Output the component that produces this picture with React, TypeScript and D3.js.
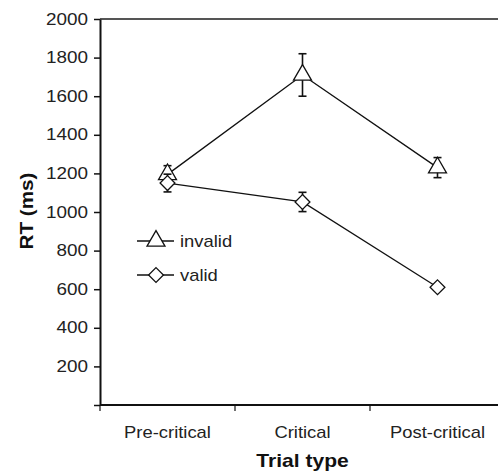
import React, { useEffect, useRef } from 'react';
import * as d3 from 'd3';

const categories = ['Pre-critical', 'Critical', 'Post-critical'];
const invalidMeans = [1195, 1710, 1230];
const invalidErr = [45, 110, 52];
const validMeans = [1150, 1052, 610];
const validErr = [46, 50, 0];
const yTicks = [200, 400, 600, 800, 1000, 1200, 1400, 1600, 1800, 2000];

const App = () => {
  const svgRef = useRef<SVGSVGElement>(null);

  useEffect(() => {
    const svg = d3.select(svgRef.current);
    svg.selectAll('*').remove();
    const font = 'Liberation Sans, Arial, Helvetica, sans-serif';
    const sx = 1.15; // the original lettering runs a bit wide

    const left = 100;
    const top = 19;
    const bottom = 405;

    const x = d3.scaleBand().domain(categories).range([left, 505]).padding(0);
    const y = d3.scaleLinear().domain([0, 2000]).range([bottom, top]);
    const cx = (c: string) => (x(c) as number) + x.bandwidth() / 2;

    // wide text helper: scale horizontally around the anchor point
    const wideText = (px: number, py: number, str: string, size: number, anchor: string, weight = 'normal', k = sx) =>
      svg.append('text')
        .attr('transform', `translate(${px},${py}) scale(${k},1)`)
        .attr('text-anchor', anchor)
        .attr('font-family', font).attr('font-size', size).attr('font-weight', weight)
        .attr('fill', weight === 'bold' ? '#111' : '#222')
        .text(str);

    // top border
    svg.append('line')
      .attr('x1', left).attr('x2', 498)
      .attr('y1', top).attr('y2', top)
      .attr('stroke', '#555').attr('stroke-width', 2);

    // y axis
    const yAxis = svg.append('g')
      .attr('transform', `translate(${left},0)`)
      .call(d3.axisLeft(y).tickValues([0, ...yTicks]).tickSize(6).tickSizeOuter(0)
        .tickFormat((d) => (d === 0 ? '' : String(d))));
    yAxis.select('.domain').attr('stroke', '#111').attr('stroke-width', 2);
    yAxis.selectAll('.tick line').attr('stroke', '#111').attr('stroke-width', 1.5);
    yAxis.selectAll('.tick text')
      .attr('x', -12 / 1.18)
      .attr('transform', 'scale(1.18,1)')
      .attr('font-family', font).attr('font-size', 16).attr('fill', '#222');

    // x axis: ticks at band boundaries
    svg.append('line')
      .attr('x1', left).attr('x2', 498)
      .attr('y1', bottom).attr('y2', bottom)
      .attr('stroke', '#111').attr('stroke-width', 2);
    svg.selectAll('.xtick')
      .data(categories)
      .join('line')
      .attr('x1', (d) => x(d) as number).attr('x2', (d) => x(d) as number)
      .attr('y1', bottom).attr('y2', bottom + 6)
      .attr('stroke', '#111').attr('stroke-width', 1.2);
    categories.forEach((c) => wideText(cx(c), bottom + 33, c, 16, 'middle'));

    // titles
    wideText(cx('Critical'), 467, 'Trial type', 18, 'middle', 'bold', 1.17);
    svg.append('text')
      .attr('transform', 'translate(33,211) rotate(-90) scale(1.15,1)')
      .attr('text-anchor', 'middle')
      .attr('font-family', font).attr('font-size', 18).attr('font-weight', 'bold')
      .attr('fill', '#111')
      .text('RT (ms)');

    const line = d3.line<number>()
      .x((_, i) => cx(categories[i]))
      .y((d) => y(d));

    const series = [
      { name: 'invalid', means: invalidMeans, errs: invalidErr, shape: d3.symbolTriangle },
      { name: 'valid', means: validMeans, errs: validErr, shape: d3.symbolDiamond2 },
    ];
    const marker = d3.symbol().size(140);

    series.forEach((s) => {
      svg.append('path')
        .attr('d', line(s.means))
        .attr('fill', 'none').attr('stroke', '#111').attr('stroke-width', 1.3);

      s.means.forEach((m, i) => {
        if (!s.errs[i]) return;
        const px = cx(categories[i]);
        const g = svg.append('g').attr('stroke', '#111').attr('stroke-width', 1.6);
        g.append('line').attr('x1', px).attr('x2', px)
          .attr('y1', y(m + s.errs[i])).attr('y2', y(m - s.errs[i]));
        [m + s.errs[i], m - s.errs[i]].forEach((v) => {
          g.append('line').attr('x1', px - 4).attr('x2', px + 4)
            .attr('y1', y(v)).attr('y2', y(v));
        });
      });

      svg.selectAll(`.pt-${s.name}`)
        .data(s.means)
        .join('path')
        .attr('transform', (d, i) => `translate(${cx(categories[i])},${y(d)})`)
        .attr('d', marker.type(s.shape)())
        .attr('fill', '#fff').attr('stroke', '#111').attr('stroke-width', 1.3);
    });

    // legend
    series.forEach((s, i) => {
      const ly = 241 + i * 34;
      svg.append('line')
        .attr('x1', 137).attr('x2', 174).attr('y1', ly).attr('y2', ly)
        .attr('stroke', '#111').attr('stroke-width', 1.3);
      svg.append('path')
        .attr('transform', `translate(156,${ly})`)
        .attr('d', marker.type(s.shape)())
        .attr('fill', '#fff').attr('stroke', '#111').attr('stroke-width', 1.3);
      wideText(180, ly + 6, s.name, 16, 'start');
    });
  }, []);

  return (
    <svg
      ref={svgRef}
      width={498}
      height={471}
      style={{ position: 'absolute', left: 0, top: 0, background: '#fff' }}
    />
  );
};

export default App;
